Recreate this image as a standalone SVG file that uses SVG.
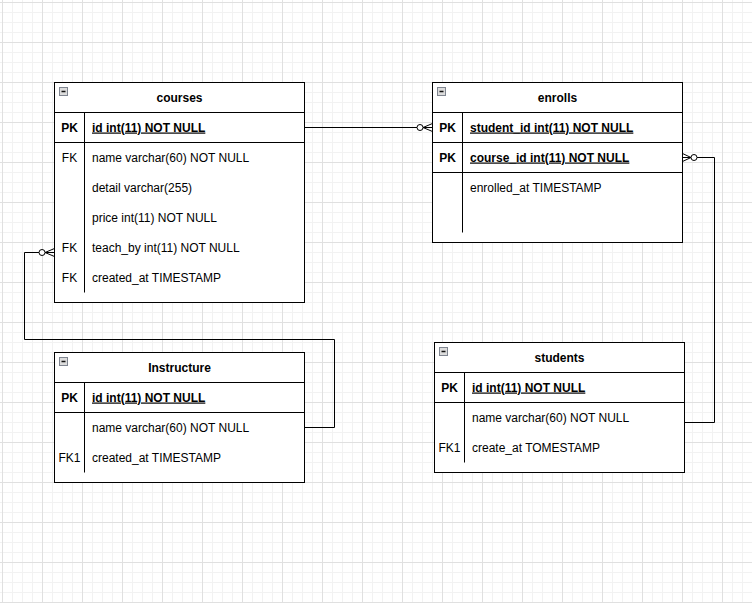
<svg xmlns="http://www.w3.org/2000/svg" width="752" height="603" viewBox="0 0 752 603">
<style>
.box{fill:#fff;stroke:#000;stroke-width:1}
.ln{stroke:#000;stroke-width:1;fill:none}
.conn{stroke:#000;stroke-width:1;fill:none}
.dot{fill:#fff;stroke:#000;stroke-width:1}
text{font-family:"Liberation Sans",Arial,Helvetica,sans-serif;font-size:12px;fill:#000}
.title{font-weight:bold;text-anchor:middle}
.key{text-anchor:middle}
.pk{font-weight:bold}
.u{text-decoration:underline}
.ic{fill:#dcdcdc;stroke:#7f8590;stroke-width:1}
.icl{stroke:#111;stroke-width:1.5}
</style>
<defs>
<pattern id="grid" x="2" y="2" width="40" height="40" patternUnits="userSpaceOnUse">
<rect x="10" y="0" width="1" height="40" fill="#f2f2f2"/>
<rect x="20" y="0" width="1" height="40" fill="#f2f2f2"/>
<rect x="30" y="0" width="1" height="40" fill="#f2f2f2"/>
<rect x="0" y="10" width="40" height="1" fill="#f2f2f2"/>
<rect x="0" y="20" width="40" height="1" fill="#f2f2f2"/>
<rect x="0" y="30" width="40" height="1" fill="#f2f2f2"/>
<rect x="0" y="0" width="1" height="40" fill="#e0e0e0"/>
<rect x="0" y="0" width="40" height="1" fill="#e0e0e0"/>
</pattern>
</defs>
<rect x="0" y="0" width="752" height="603" fill="#fff"/>
<rect x="0" y="0" width="752" height="603" fill="url(#grid)"/>

<g id="connectors">
<!-- courses.id -> enrolls.student_id -->
<path class="conn" d="M304.5,127.5 H417"/>
<circle class="dot" cx="420" cy="127.5" r="3"/>
<path class="conn" d="M423,127.5 L432.5,123.5 M423,127.5 L432.5,131.5 M423,127.5 H432.5"/>
<!-- enrolls.course_id -> students -->
<path class="conn" d="M697,157.5 H714.5 V422.5 H684.5"/>
<circle class="dot" cx="694" cy="157.5" r="3"/>
<path class="conn" d="M691,157.5 L682.5,153.5 M691,157.5 L682.5,161.5 M691,157.5 H682.5"/>
<!-- courses.teach_by -> Instructure -->
<path class="conn" d="M39,252.5 H24.5 V339.5 H334.5 V427.5 H304.5"/>
<circle class="dot" cx="42" cy="252.5" r="3"/>
<path class="conn" d="M45,252.5 L54.5,248.5 M45,252.5 L54.5,256.5 M45,252.5 H54.5"/>
</g>

<g id="courses">
<rect class="box" x="54.5" y="82.5" width="250" height="220"/>
<path class="ln" d="M54.5,112.5 H304.5 M54.5,142.5 H304.5 M84.5,112.5 V292.5"/>
<rect class="ic" x="59.5" y="87.5" width="8" height="8"/>
<path class="icl" d="M61.5,91.5 H65.5"/>
<text class="title" x="179.5" y="101.5">courses</text>
<text class="key pk" x="69.5" y="131.5">PK</text>
<text class="pk u" x="92" y="131.5">id int(11) NOT NULL</text>
<text class="key" x="69.5" y="161.5">FK</text>
<text x="92" y="161.5">name varchar(60) NOT NULL</text>
<text x="92" y="191.5">detail varchar(255)</text>
<text x="92" y="221.5">price int(11) NOT NULL</text>
<text class="key" x="69.5" y="251.5">FK</text>
<text x="92" y="251.5">teach_by int(11) NOT NULL</text>
<text class="key" x="69.5" y="281.5">FK</text>
<text x="92" y="281.5">created_at TIMESTAMP</text>
</g>

<g id="enrolls">
<rect class="box" x="432.5" y="82.5" width="250" height="160"/>
<path class="ln" d="M432.5,112.5 H682.5 M432.5,142.5 H682.5 M432.5,172.5 H682.5 M462.5,112.5 V232.5"/>
<rect class="ic" x="437.5" y="87.5" width="8" height="8"/>
<path class="icl" d="M439.5,91.5 H443.5"/>
<text class="title" x="557.5" y="101.5">enrolls</text>
<text class="key pk" x="447.5" y="131.5">PK</text>
<text class="pk u" x="470" y="131.5">student_id int(11) NOT NULL</text>
<text class="key pk" x="447.5" y="161.5">PK</text>
<text class="pk u" x="470" y="161.5">course_id int(11) NOT NULL</text>
<text x="470" y="191.5">enrolled_at TIMESTAMP</text>
</g>

<g id="instructure">
<rect class="box" x="54.5" y="352.5" width="250" height="130"/>
<path class="ln" d="M54.5,382.5 H304.5 M54.5,412.5 H304.5 M84.5,382.5 V472.5"/>
<rect class="ic" x="59.5" y="357.5" width="8" height="8"/>
<path class="icl" d="M61.5,361.5 H65.5"/>
<text class="title" x="179.5" y="371.5">Instructure</text>
<text class="key pk" x="69.5" y="401.5">PK</text>
<text class="pk u" x="92" y="401.5">id int(11) NOT NULL</text>
<text x="92" y="431.5">name varchar(60) NOT NULL</text>
<text class="key" x="69.5" y="461.5">FK1</text>
<text x="92" y="461.5">created_at TIMESTAMP</text>
</g>

<g id="students">
<rect class="box" x="434.5" y="342.5" width="250" height="130"/>
<path class="ln" d="M434.5,372.5 H684.5 M434.5,402.5 H684.5 M464.5,372.5 V462.5"/>
<rect class="ic" x="439.5" y="347.5" width="8" height="8"/>
<path class="icl" d="M441.5,351.5 H445.5"/>
<text class="title" x="559.5" y="361.5">students</text>
<text class="key pk" x="449.5" y="391.5">PK</text>
<text class="pk u" x="472" y="391.5">id int(11) NOT NULL</text>
<text x="472" y="421.5">name varchar(60) NOT NULL</text>
<text class="key" x="449.5" y="451.5">FK1</text>
<text x="472" y="451.5">create_at TOMESTAMP</text>
</g>
</svg>
